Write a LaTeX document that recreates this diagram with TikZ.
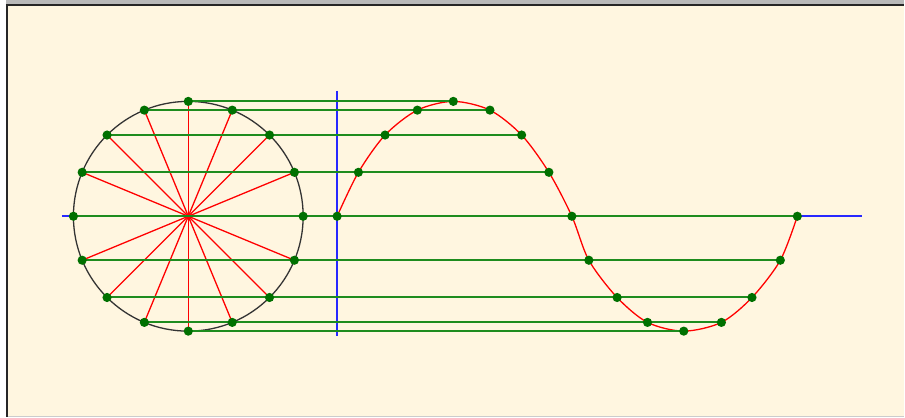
\documentclass[tikz,border=0pt]{standalone}
\usetikzlibrary{calc}
\definecolor{bgc}{RGB}{255,246,224}
\definecolor{dotc}{RGB}{0,112,0}
\definecolor{glc}{RGB}{30,140,30}
\definecolor{blc}{RGB}{40,40,255}
\tikzset{
  greenline/.style={glc, line width=2pt},
  spoke/.style={red, line width=1.3pt},
  blueline/.style={blc, line width=1.8pt},
  dot/.style={fill=dotc},
}
\begin{document}
\begin{tikzpicture}[x=1pt,y=-1pt]
% frame / background
\fill[bgc] (0,0) rectangle (905,417);
\fill[white] (0,0) rectangle (6,417);
\fill[gray!55] (6,0) rectangle (905,4);
\draw[black!85, line width=2pt] (6,5.5) -- (905,5.5);
\draw[black!85, line width=2pt] (7,5) -- (7,417);
\draw[gray!40, line width=1pt] (8,416.5) -- (905,416.5);
\useasboundingbox (0,0) rectangle (905,417);

% coordinates
\coordinate (O) at (188.5,216.5);
\foreach \k in {0,...,15}
  \coordinate (c\k) at ({188.5+115*cos(22.5*\k)},{216.5-115*sin(22.5*\k)});
\foreach \i/\x in {0/337.5,1/358.8,2/385.5,3/417.8,4/453.8,5/490.5,6/522.2,7/549.5,8/572.5,
                   9/589.5,10/617.8,11/648.2,12/684.5,13/722.2,14/752.8,15/781.2,16/798.2}
  \coordinate (s\i) at ({\x},{216.5-115*sin(22.5*\i)});
\coordinate (bl) at (62,216.5);
\coordinate (br) at (863,216.5);
\coordinate (vt) at (337.5,91);
\coordinate (vb) at (337.5,336);

% blue axes
\draw[blueline] (bl) -- (br);
\draw[blueline] (vt) -- (vb);

% circle and spokes
\draw[black!80, line width=1.3pt] (O) circle (115pt);
\foreach \k in {0,...,15} \draw[spoke] (O) -- (c\k);

% sine curve
\draw[red, line width=1.3pt] plot[smooth] coordinates {(s0) (s1) (s2) (s3) (s4) (s5) (s6) (s7) (s8) (s9) (s10) (s11) (s12) (s13) (s14) (s15) (s16)};

% green projection lines
\draw[greenline] (c4) -- (s4);
\draw[greenline] (c5) -- (s5);
\draw[greenline] (c6) -- (s6);
\draw[greenline] (c7) -- (s7);
\draw[greenline] (c8) -- (s16);
\draw[greenline] (c9) -- (s15);
\draw[greenline] (c10) -- (s14);
\draw[greenline] (c11) -- (s13);
\draw[greenline] (c12) -- (s12);

% dots
\foreach \k in {0,...,15} \fill[dot] (c\k) circle (4.6pt);
\foreach \i in {0,...,16} \fill[dot] (s\i) circle (4.6pt);
\end{tikzpicture}
\end{document}
